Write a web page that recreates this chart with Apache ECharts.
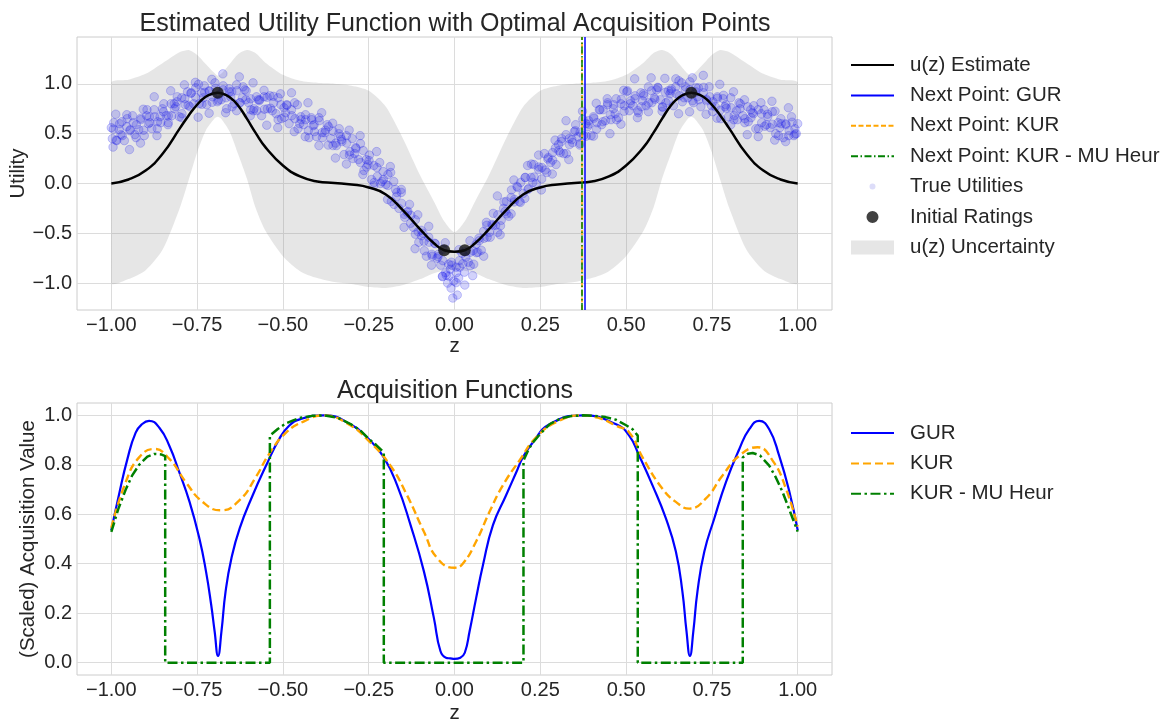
<!DOCTYPE html>
<html>
<head>
<meta charset="utf-8">
<script src="https://cdn.jsdelivr.net/npm/echarts@6/dist/echarts.min.js"></script>
<style>
  html, body { margin: 0; background: #fff; }
  #chart { width: 1175px; height: 725px; }
</style>
</head>
<body>
<div id="chart"></div>
<script>
// ---- top panel: estimated utility ----
const zGrid = [-1.00, -0.95, -0.90, -0.85, -0.80, -0.775, -0.75, -0.725, -0.70, -0.69, -0.68, -0.655, -0.63, -0.605,
  -0.58, -0.55, -0.50, -0.45, -0.40, -0.35, -0.30, -0.25, -0.20, -0.15, -0.10, -0.06, -0.03, 0.00,
  0.03, 0.06, 0.10, 0.15, 0.20, 0.25, 0.30, 0.35, 0.40, 0.45, 0.50, 0.55, 0.58, 0.605, 0.63, 0.655,
  0.68, 0.69, 0.70, 0.725, 0.75, 0.775, 0.80, 0.85, 0.90, 0.95, 1.00];
const uEstimate = [0.00, 0.04, 0.13, 0.30, 0.555, 0.68, 0.79, 0.87, 0.905, 0.91, 0.905, 0.865, 0.78, 0.65,
  0.51, 0.36, 0.18, 0.07, 0.02, 0.005, -0.01, -0.04, -0.11, -0.27, -0.46, -0.60, -0.67, -0.685,
  -0.67, -0.60, -0.46, -0.27, -0.11, -0.04, -0.01, 0.005, 0.02, 0.07, 0.18, 0.36, 0.51, 0.65, 0.78, 0.865,
  0.905, 0.91, 0.905, 0.87, 0.79, 0.68, 0.555, 0.30, 0.13, 0.04, 0.00];
const uUpper = [1.01, 1.04, 1.10, 1.21, 1.32, 1.34, 1.29, 1.20, 1.11, 1.08, 1.10, 1.20, 1.30, 1.34,
  1.31, 1.21, 1.09, 1.03, 1.01, 1.00, 0.98, 0.93, 0.77, 0.45, 0.08, -0.18, -0.38, -0.49,
  -0.38, -0.18, 0.08, 0.45, 0.77, 0.93, 0.98, 1.00, 1.01, 1.03, 1.09, 1.21, 1.31, 1.34, 1.30, 1.20,
  1.10, 1.08, 1.11, 1.20, 1.29, 1.34, 1.32, 1.21, 1.10, 1.04, 1.01];
const uLower = [-1.00, -0.96, -0.87, -0.66, -0.24, 0.03, 0.31, 0.53, 0.65, 0.67, 0.65, 0.52, 0.29, 0.05,
  -0.24, -0.48, -0.73, -0.88, -0.95, -0.99, -1.01, -1.04, -1.05, -1.02, -0.96, -0.90, -0.875, -0.87,
  -0.875, -0.90, -0.96, -1.02, -1.05, -1.04, -1.01, -0.99, -0.95, -0.88, -0.73, -0.48, -0.24, 0.05, 0.29, 0.52,
  0.65, 0.67, 0.65, 0.53, 0.31, 0.03, -0.24, -0.66, -0.87, -0.96, -1.00];

const initialZ = [-0.69, -0.03, 0.03, 0.69];
const initialU = [0.91, -0.67, -0.67, 0.91];

const nextGUR = 0.384;
const nextKUR = 0.374;
const nextHeur = 0.374;

// sampled true utilities [z, u]
const trueUtilities = [
  [-1.000,0.56],[-0.997,0.45],[-0.993,0.61],[-0.984,0.43],[-0.977,0.54],[-0.972,0.49],
  [-0.969,0.62],[-0.962,0.43],[-0.955,0.57],[-0.945,0.54],[-0.938,0.68],[-0.931,0.49],
  [-0.927,0.59],[-0.920,0.54],[-0.914,0.64],[-0.904,0.48],[-0.897,0.68],[-0.892,0.60],
  [-0.889,0.67],[-0.882,0.55],[-0.875,0.74],[-0.865,0.62],[-0.858,0.67],[-0.851,0.75],
  [-0.847,0.80],[-0.840,0.68],[-0.834,0.61],[-0.824,0.68],[-0.817,0.80],[-0.812,0.77],
  [-0.809,0.82],[-0.802,0.67],[-0.795,0.86],[-0.785,0.79],[-0.778,0.92],[-0.771,0.77],
  [-0.767,0.91],[-0.760,0.80],[-0.754,0.96],[-0.744,0.80],[-0.737,0.91],[-0.732,0.86],
  [-0.729,0.98],[-0.722,0.79],[-0.715,0.93],[-0.705,0.87],[-0.698,1.01],[-0.691,0.82],
  [-0.687,0.89],[-0.680,0.84],[-0.674,0.94],[-0.664,0.75],[-0.657,0.95],[-0.652,0.87],
  [-0.649,0.92],[-0.642,0.80],[-0.635,0.99],[-0.625,0.81],[-0.618,0.86],[-0.611,0.94],
  [-0.607,0.93],[-0.600,0.81],[-0.594,0.74],[-0.584,0.75],[-0.577,0.87],[-0.572,0.84],
  [-0.569,0.83],[-0.562,0.68],[-0.555,0.87],[-0.545,0.75],[-0.538,0.88],[-0.531,0.73],
  [-0.527,0.81],[-0.520,0.70],[-0.514,0.86],[-0.504,0.65],[-0.497,0.76],[-0.492,0.71],
  [-0.489,0.79],[-0.482,0.60],[-0.475,0.74],[-0.465,0.65],[-0.458,0.79],[-0.451,0.60],
  [-0.447,0.64],[-0.440,0.59],[-0.434,0.69],[-0.424,0.46],[-0.417,0.66],[-0.412,0.58],
  [-0.409,0.59],[-0.402,0.47],[-0.395,0.66],[-0.385,0.46],[-0.378,0.51],[-0.371,0.59],
  [-0.367,0.57],[-0.360,0.45],[-0.354,0.38],[-0.344,0.38],[-0.337,0.50],[-0.332,0.47],
  [-0.329,0.44],[-0.322,0.29],[-0.315,0.48],[-0.305,0.32],[-0.298,0.45],[-0.291,0.30],
  [-0.287,0.35],[-0.280,0.24],[-0.274,0.40],[-0.264,0.13],[-0.257,0.24],[-0.252,0.19],
  [-0.249,0.23],[-0.242,0.04],[-0.235,0.18],[-0.225,0.07],[-0.218,0.21],[-0.211,0.02],
  [-0.207,0.04],[-0.200,-0.01],[-0.194,0.09],[-0.184,-0.18],[-0.177,0.02],[-0.172,-0.06],
  [-0.169,-0.13],[-0.162,-0.25],[-0.155,-0.06],[-0.145,-0.34],[-0.138,-0.29],[-0.131,-0.21],
  [-0.127,-0.32],[-0.120,-0.44],[-0.114,-0.51],[-0.104,-0.59],[-0.097,-0.47],[-0.092,-0.50],
  [-0.089,-0.58],[-0.082,-0.73],[-0.075,-0.54],[-0.065,-0.73],[-0.058,-0.60],[-0.051,-0.75],
  [-0.047,-0.71],[-0.040,-0.82],[-0.034,-0.66],[-0.024,-0.92],[-0.017,-0.81],[-0.012,-0.86],
  [-0.009,-0.79],[-0.002,-0.98],[0.005,-0.84],[0.015,-0.84],[0.022,-0.70],[0.029,-0.89],
  [0.033,-0.74],[0.040,-0.79],[0.046,-0.69],[0.056,-0.81],[0.063,-0.61],[0.068,-0.69],
  [0.071,-0.55],[0.078,-0.67],[0.085,-0.48],[0.095,-0.54],[0.102,-0.49],[0.109,-0.41],
  [0.113,-0.30],[0.120,-0.42],[0.126,-0.49],[0.136,-0.37],[0.143,-0.25],[0.148,-0.28],
  [0.151,-0.18],[0.158,-0.33],[0.165,-0.14],[0.175,-0.16],[0.182,-0.03],[0.189,-0.18],
  [0.193,0.01],[0.200,-0.10],[0.206,0.06],[0.216,-0.05],[0.223,0.06],[0.228,0.01],
  [0.231,0.19],[0.238,0.00],[0.245,0.14],[0.255,0.16],[0.262,0.30],[0.269,0.11],
  [0.273,0.26],[0.280,0.21],[0.286,0.31],[0.296,0.19],[0.303,0.39],[0.308,0.31],
  [0.311,0.42],[0.318,0.30],[0.325,0.49],[0.335,0.39],[0.342,0.44],[0.349,0.52],
  [0.353,0.59],[0.360,0.47],[0.366,0.40],[0.376,0.48],[0.383,0.60],[0.388,0.57],
  [0.391,0.63],[0.398,0.48],[0.405,0.67],[0.415,0.61],[0.422,0.74],[0.429,0.59],
  [0.433,0.74],[0.440,0.63],[0.446,0.79],[0.456,0.64],[0.463,0.75],[0.468,0.70],
  [0.471,0.85],[0.478,0.66],[0.485,0.80],[0.495,0.78],[0.502,0.92],[0.509,0.73],
  [0.513,0.83],[0.520,0.78],[0.526,0.88],[0.536,0.71],[0.543,0.91],[0.548,0.83],
  [0.551,0.90],[0.558,0.78],[0.565,0.97],[0.575,0.81],[0.582,0.86],[0.589,0.94],
  [0.593,0.96],[0.600,0.84],[0.606,0.77],[0.616,0.81],[0.623,0.93],[0.628,0.90],
  [0.631,0.93],[0.638,0.78],[0.645,0.97],[0.655,0.88],[0.662,1.01],[0.669,0.86],
  [0.673,0.97],[0.680,0.86],[0.686,1.02],[0.696,0.81],[0.703,0.92],[0.708,0.87],
  [0.711,0.96],[0.718,0.77],[0.725,0.91],[0.735,0.83],[0.742,0.97],[0.749,0.78],
  [0.753,0.82],[0.760,0.77],[0.766,0.87],[0.776,0.65],[0.783,0.85],[0.788,0.77],
  [0.791,0.79],[0.798,0.67],[0.805,0.86],[0.815,0.68],[0.822,0.73],[0.829,0.81],
  [0.833,0.80],[0.840,0.68],[0.846,0.61],[0.856,0.62],[0.863,0.74],[0.868,0.71],
  [0.871,0.70],[0.878,0.55],[0.885,0.74],[0.895,0.61],[0.902,0.74],[0.909,0.59],
  [0.913,0.67],[0.920,0.56],[0.926,0.72],[0.936,0.50],[0.943,0.61],[0.948,0.56],
  [0.951,0.65],[0.958,0.46],[0.965,0.60],[0.975,0.53],[0.982,0.67],[0.989,0.48],
  [0.992,0.55],[0.996,0.50],[1.000,0.60],
  [-0.010,-1.05],[0.008,-1.12],[-0.020,-1.00],[0.012,-0.95],[0.030,-1.02],[-0.035,-0.93],[-0.005,-1.15],
  [-0.994,0.545],[-0.986,0.435],[-0.968,0.48],[-0.976,0.60],[-0.954,0.65],[-0.946,0.53],
  [-0.928,0.46],[-0.936,0.61],[-0.914,0.655],[-0.906,0.535],[-0.888,0.61],[-0.896,0.74],
  [-0.874,0.67],[-0.866,0.55],[-0.848,0.72],[-0.856,0.61],[-0.834,0.68],[-0.826,0.80],
  [-0.808,0.87],[-0.816,0.75],[-0.794,0.70],[-0.786,0.85],[-0.768,0.905],[-0.776,0.785],
  [-0.754,0.865],[-0.746,0.995],[-0.728,0.915],[-0.736,0.795],[-0.714,0.925],[-0.706,0.815],
  [-0.688,0.835],[-0.696,0.955],[-0.674,0.98],[-0.666,0.86],[-0.648,0.77],[-0.656,0.92],
  [-0.634,0.93],[-0.626,0.81],[-0.608,0.84],[-0.616,0.97],[-0.594,0.85],[-0.586,0.73],
  [-0.568,0.84],[-0.576,0.73],[-0.554,0.745],[-0.546,0.865],[-0.528,0.875],[-0.536,0.755],
  [-0.514,0.64],[-0.506,0.79],[-0.488,0.785],[-0.496,0.665],[-0.474,0.68],[-0.466,0.81],
  [-0.448,0.67],[-0.456,0.55],[-0.434,0.64],[-0.426,0.53],[-0.408,0.52],[-0.416,0.64],
  [-0.394,0.63],[-0.386,0.51],[-0.368,0.385],[-0.376,0.535],[-0.354,0.525],[-0.346,0.405],
  [-0.328,0.42],[-0.336,0.55],[-0.314,0.405],[-0.306,0.285],[-0.288,0.36],[-0.296,0.25],
  [-0.274,0.21],[-0.266,0.33],[-0.248,0.285],[-0.256,0.165],[-0.234,0.01],[-0.226,0.16],
  [-0.208,0.12],[-0.216,0.00],[-0.194,-0.02],[-0.186,0.11],[-0.168,-0.09],[-0.176,-0.21],
  [-0.154,-0.20],[-0.146,-0.31],[-0.128,-0.40],[-0.136,-0.28],[-0.114,-0.365],[-0.106,-0.485],
  [-0.088,-0.675],[-0.096,-0.525],[-0.074,-0.59],[-0.066,-0.71],[-0.048,-0.735],[-0.056,-0.605],
  [-0.034,-0.775],[-0.026,-0.895],[-0.008,-0.82],[-0.016,-0.93],[0.006,-0.895],[0.014,-0.775],
  [0.032,-0.685],[0.024,-0.805],[0.046,-0.825],[0.054,-0.675],[0.072,-0.575],[0.064,-0.695],
  [0.086,-0.55],[0.094,-0.42],[0.112,-0.42],[0.104,-0.54],[0.126,-0.315],[0.134,-0.425],
  [0.152,-0.305],[0.144,-0.185],[0.166,-0.065],[0.174,-0.185],[0.192,-0.19],[0.184,-0.04],
  [0.206,0.06],[0.214,-0.06],[0.232,0.065],[0.224,0.195],[0.246,0.165],[0.254,0.045],
  [0.272,0.245],[0.264,0.135],[0.286,0.235],[0.294,0.355],[0.312,0.45],[0.304,0.33],
  [0.326,0.30],[0.334,0.45],[0.352,0.53],[0.344,0.41],[0.366,0.515],[0.374,0.645],
  [0.392,0.595],[0.384,0.475],[0.406,0.655],[0.414,0.545],[0.432,0.62],[0.424,0.74],
  [0.446,0.81],[0.454,0.69],[0.472,0.64],[0.464,0.79],[0.486,0.845],[0.494,0.725],
  [0.512,0.80],[0.504,0.93],[0.526,0.85],[0.534,0.73],[0.552,0.88],[0.544,0.77],
  [0.566,0.81],[0.574,0.93],[0.592,0.965],[0.584,0.845],[0.606,0.765],[0.614,0.915],
  [0.632,0.95],[0.624,0.83],[0.646,0.90],[0.654,1.03],[0.672,0.94],[0.664,0.82],
  [0.686,0.94],[0.694,0.83],[0.712,0.84],[0.704,0.96],[0.726,0.965],[0.734,0.845],
  [0.752,0.72],[0.744,0.87],[0.766,0.855],[0.774,0.735],[0.792,0.755],[0.784,0.885],
  [0.806,0.76],[0.814,0.64],[0.832,0.75],[0.824,0.64],[0.846,0.65],[0.854,0.77],
  [0.872,0.78],[0.864,0.66],[0.886,0.55],[0.894,0.70],[0.912,0.695],[0.904,0.575],
  [0.926,0.595],[0.934,0.725],[0.952,0.60],[0.944,0.48],[0.966,0.59],[0.974,0.48],
  [0.992,0.495],[0.984,0.615],
  [-0.987,0.695],[-0.995,0.365],[-0.947,0.34],[-0.955,0.69],[-0.907,0.745],[-0.915,0.405],
  [-0.867,0.48],[-0.875,0.87],[-0.827,0.93],[-0.835,0.59],[-0.787,0.99],[-0.795,0.66],
  [-0.747,0.665],[-0.755,1.015],[-0.707,1.045],[-0.715,0.705],[-0.667,0.71],[-0.675,1.10],
  [-0.627,1.07],[-0.635,0.73],[-0.587,1.01],[-0.595,0.68],[-0.547,0.585],[-0.555,0.935],
  [-0.507,0.90],[-0.515,0.56],[-0.467,0.52],[-0.475,0.91],[-0.427,0.81],[-0.435,0.47],
  [-0.387,0.71],[-0.395,0.38],[-0.347,0.255],[-0.355,0.605],[-0.307,0.535],[-0.315,0.195],
  [-0.267,0.09],[-0.275,0.48],[-0.227,0.32],[-0.235,-0.02],[-0.187,0.17],[-0.195,-0.16],
  [-0.147,-0.44],[-0.155,-0.09],[-0.107,-0.315],[-0.115,-0.655],[-0.067,-0.82],[-0.075,-0.43],
  [-0.027,-0.595],[-0.035,-0.935],[0.013,-0.665],[0.005,-0.995],[0.053,-0.925],[0.045,-0.575],
  [0.093,-0.39],[0.085,-0.73],[0.133,-0.515],[0.125,-0.125],[0.173,0.035],[0.165,-0.305],
  [0.213,0.18],[0.205,-0.15],[0.253,-0.065],[0.245,0.285],[0.293,0.435],[0.285,0.095],
  [0.333,0.24],[0.325,0.63],[0.373,0.725],[0.365,0.385],[0.413,0.805],[0.405,0.475],
  [0.453,0.50],[0.445,0.85],[0.493,0.935],[0.485,0.595],[0.533,0.66],[0.525,1.05],
  [0.573,1.06],[0.565,0.72],[0.613,1.055],[0.605,0.725],[0.653,0.70],[0.645,1.05],
  [0.693,1.06],[0.685,0.72],[0.733,0.695],[0.725,1.085],[0.773,0.995],[0.765,0.655],
  [0.813,0.92],[0.805,0.59],[0.853,0.49],[0.845,0.84],[0.893,0.81],[0.885,0.47],
  [0.933,0.435],[0.925,0.825],[0.973,0.76],[0.965,0.42]
];

// ---- bottom panel: acquisition functions ----
const gurZ = [-1.00, -0.978, -0.953, -0.929, -0.91, -0.89, -0.86, -0.831, -0.802, -0.772, -0.743, -0.724, -0.709,
  -0.699, -0.689, -0.679, -0.667, -0.650, -0.626, -0.588, -0.549, -0.511, -0.482, -0.449, -0.381, -0.303,
  -0.25, -0.206, -0.167, -0.128, -0.089, -0.060, -0.041, -0.025, -0.012, 0.0, 0.017, 0.03, 0.044, 0.063,
  0.083, 0.112, 0.150, 0.180, 0.199, 0.228, 0.277, 0.374, 0.471, 0.509, 0.538, 0.577, 0.616, 0.645, 0.664,
  0.676, 0.686, 0.696, 0.708, 0.728, 0.757, 0.791, 0.830, 0.859, 0.888, 0.917, 0.946, 0.976, 1.0];
const gurVal = [0.536, 0.677, 0.824, 0.93, 0.965, 0.978, 0.95, 0.877, 0.77, 0.65, 0.50, 0.368, 0.234,
  0.127, 0.027, 0.127, 0.288, 0.422, 0.543, 0.677, 0.797, 0.904, 0.958, 0.985, 1.0, 0.964,
  0.904, 0.83, 0.717, 0.556, 0.368, 0.18, 0.047, 0.02, 0.017, 0.015, 0.02, 0.04, 0.127, 0.261,
  0.395, 0.556, 0.676, 0.77, 0.83, 0.89, 0.964, 1.0, 0.964, 0.918, 0.837, 0.717, 0.583, 0.449, 0.288,
  0.127, 0.027, 0.127, 0.288, 0.449, 0.583, 0.73, 0.864, 0.944, 0.978, 0.944, 0.837, 0.69, 0.536];

const kurZ = [-1.00, -0.958, -0.919, -0.875, -0.831, -0.783, -0.734, -0.681, -0.627, -0.579, -0.540, -0.491,
  -0.44, -0.381, -0.31, -0.25, -0.187, -0.138, -0.089, -0.050, 0.0, 0.024, 0.063, 0.102, 0.141, 0.189,
  0.238, 0.30, 0.374, 0.43, 0.471, 0.509, 0.548, 0.606, 0.645, 0.684, 0.732, 0.781, 0.830, 0.883, 0.927,
  0.966, 1.0];
const kurVal = [0.545, 0.73, 0.83, 0.864, 0.824, 0.73, 0.65, 0.616, 0.656, 0.75, 0.844, 0.93,
  0.975, 1.0, 0.965, 0.897, 0.797, 0.676, 0.529, 0.422, 0.384, 0.40, 0.49, 0.61, 0.717, 0.817,
  0.911, 0.975, 1.0, 0.985, 0.958, 0.931, 0.83, 0.703, 0.65, 0.623, 0.663, 0.757, 0.837, 0.871, 0.817,
  0.703, 0.55];

const heurZ = [-1.00, -0.98, -0.958, -0.94, -0.919, -0.895, -0.875, -0.855, -0.843, -0.843,
  -0.538, -0.538, -0.515, -0.491, -0.47, -0.449, -0.415, -0.381, -0.34, -0.303, -0.275, -0.25, -0.228, -0.206, -0.206,
  0.201, 0.201, 0.215, 0.228, 0.25, 0.277, 0.31, 0.34, 0.374, 0.41, 0.44, 0.471, 0.50, 0.519, 0.534, 0.534,
  0.84, 0.84, 0.855, 0.869, 0.89, 0.917, 0.936, 0.956, 0.978, 1.0];
const heurVal = [0.529, 0.62, 0.70, 0.755, 0.80, 0.833, 0.844, 0.842, 0.835, 0,
  0, 0.918, 0.945, 0.968, 0.98, 0.99, 0.998, 1.0, 0.99, 0.965, 0.94, 0.905, 0.88, 0.85, 0,
  0, 0.817, 0.86, 0.89, 0.925, 0.964, 0.988, 0.997, 1.0, 0.998, 0.993, 0.982, 0.96, 0.944, 0.918, 0,
  0, 0.83, 0.845, 0.848, 0.838, 0.797, 0.75, 0.69, 0.61, 0.53];

const zTicks = [-1, -0.75, -0.5, -0.25, 0, 0.25, 0.5, 0.75, 1];
const utilTicks = [-1, -0.5, 0, 0.5, 1];
const acqTicks = [0, 0.2, 0.4, 0.6, 0.8, 1];

const font = "'Liberation Sans', Arial, sans-serif";
const ink = '#262626';
const zip = (xs, ys) => xs.map((x, i) => [x, ys[i]]);
const fmt = (d) => (v) => (v < 0 ? '\u2212' : '') + Math.abs(v).toFixed(d);

function xAxisFor(gridIndex, nameGap) {
  return {
    type: 'value', gridIndex, min: -1.1, max: 1.1,
    name: 'z', nameLocation: 'middle', nameGap,
    nameTextStyle: { fontSize: 20.5, color: ink, fontFamily: font },
    axisLine: { show: false },
    axisTick: { show: false, customValues: zTicks },
    axisLabel: { customValues: zTicks, formatter: fmt(2), fontSize: 20, color: ink, fontFamily: font, margin: 5 },
    splitLine: { show: true, lineStyle: { color: '#dcdcdc', width: 1 } }
  };
}
function yAxisFor(gridIndex, min, max, ticks, name, nameGap) {
  return {
    type: 'value', gridIndex, min, max,
    name, nameLocation: 'middle', nameGap, nameMoveOverlap: false,
    nameTextStyle: { fontSize: 20.5, color: ink, fontFamily: font },
    axisLine: { show: false },
    axisTick: { show: false, customValues: ticks },
    axisLabel: { customValues: ticks, formatter: fmt(1), fontSize: 20, color: ink, fontFamily: font, margin: 5 },
    splitLine: { show: true, lineStyle: { color: '#dcdcdc', width: 1 } }
  };
}
function nextPoint(name, z, color, type) {
  return {
    name, type: 'line', xAxisIndex: 0, yAxisIndex: 0, data: [], symbol: 'none',
    itemStyle: { color }, lineStyle: { color, width: 1.5, type },
    markLine: { silent: true, symbol: 'none', label: { show: false },
      lineStyle: { color, width: 1.5, type }, data: [{ xAxis: z }] },
    z: 6
  };
}
const lineItem = (name) => ({ name, itemStyle: { opacity: 0 } });

const legendText = {
  fontSize: 20.5, color: ink, fontFamily: font, lineHeight: 22,
  rich: { g: { width: 11 } }
};
const smallDot = 'path://M0,0L0.01,0M14,14L14.01,14M4,7a3,3 0 1,0 6,0a3,3 0 1,0 -6,0Z';
const bigDot = 'path://M0,0L0.01,0M14,14L14.01,14M1,7a6,6 0 1,0 12,0a6,6 0 1,0 -12,0Z';

const chart = echarts.init(document.getElementById('chart'));
chart.setOption({
  backgroundColor: '#ffffff',
  animation: false,
  title: [
    { text: 'Estimated Utility Function with Optimal Acquisition Points', left: 455, top: 12, textAlign: 'center', padding: 0,
      textStyle: { fontSize: 25, fontWeight: 'normal', color: ink, fontFamily: font } },
    { text: 'Acquisition Functions', left: 455, top: 379, textAlign: 'center', padding: 0,
      textStyle: { fontSize: 25, fontWeight: 'normal', color: ink, fontFamily: font } }
  ],
  grid: [
    { left: 77, top: 37, width: 755, height: 273, containLabel: false, outerBoundsMode: 'none',
      show: true, borderColor: '#cccccc', borderWidth: 1, backgroundColor: '#fff' },
    { left: 77, top: 403, width: 755, height: 272, containLabel: false, outerBoundsMode: 'none',
      show: true, borderColor: '#cccccc', borderWidth: 1, backgroundColor: '#fff' }
  ],
  xAxis: [xAxisFor(0, 22), xAxisFor(1, 28)],
  yAxis: [
    yAxisFor(0, -1.27, 1.47, utilTicks, 'Utility', 48),
    yAxisFor(1, -0.05, 1.05, acqTicks, '(Scaled) Acquisition Value', 38)
  ],
  legend: [
    { orient: 'vertical', left: 850, top: 54, padding: 0, itemWidth: 43, itemHeight: 14, itemGap: 8.4,
      textStyle: legendText, formatter: (n) => '{g|}' + n, selectedMode: false,
      data: [
        lineItem('u(z) Estimate'),
        lineItem('Next Point: GUR'),
        lineItem('Next Point: KUR'),
        lineItem('Next Point: KUR - MU Heur'),
        { name: 'True Utilities', icon: smallDot, itemStyle: { color: '#d4d4f8', borderWidth: 0 } },
        { name: 'Initial Ratings', icon: bigDot, itemStyle: { color: '#111111', borderWidth: 0 } },
        { name: 'u(z) Uncertainty', icon: 'rect', itemStyle: { color: '#e6e6e6', borderWidth: 0 } }
      ] },
    { orient: 'vertical', left: 850, top: 422, padding: 0, itemWidth: 43, itemHeight: 14, itemGap: 8.4,
      textStyle: legendText, formatter: (n) => '{g|}' + n, selectedMode: false,
      data: [lineItem('GUR'), lineItem('KUR'), lineItem('KUR - MU Heur')] }
  ],
  series: [
    { name: 'u(z) Uncertainty', type: 'custom', xAxisIndex: 0, yAxisIndex: 0,
      data: zGrid.map((z, i) => [z, uLower[i], uUpper[i]]),
      encode: { x: 0, y: [1, 2] }, silent: true, z: 1,
      itemStyle: { color: '#e6e6e6' },
      renderItem: (params, api) => {
        if (params.dataIndex !== 0) return null;
        const top = zGrid.map((z, i) => api.coord([z, uUpper[i]]));
        const bottom = zGrid.map((z, i) => api.coord([z, uLower[i]])).reverse();
        const pts = top.concat(bottom);
        const xs = pts.map((p) => p[0]);
        const ys = pts.map((p) => p[1]);
        const bounds = [[Math.min(...xs), Math.min(...ys)], [Math.max(...xs), Math.max(...ys)]];
        return {
          type: 'polygon',
          shape: { points: pts, smooth: 0.25, smoothConstraint: bounds },
          style: { fill: 'rgba(128,128,128,0.2)', stroke: null }
        };
      } },
    { name: 'True Utilities', type: 'scatter', xAxisIndex: 0, yAxisIndex: 0, data: trueUtilities,
      symbolSize: 8.5, itemStyle: { color: 'rgba(30,30,235,0.25)', borderColor: 'rgba(30,30,235,0.36)', borderWidth: 0.8 },
      silent: true, z: 2 },
    { name: 'u(z) Estimate', type: 'line', xAxisIndex: 0, yAxisIndex: 0, data: zip(zGrid, uEstimate),
      symbol: 'none', smooth: 0.5,
      itemStyle: { color: '#000' }, lineStyle: { color: '#000', width: 2.5 }, z: 3 },
    { name: 'Initial Ratings', type: 'scatter', xAxisIndex: 0, yAxisIndex: 0, data: zip(initialZ, initialU),
      symbolSize: 12, itemStyle: { color: '#111111' }, z: 4 },
    nextPoint('Next Point: GUR', nextGUR, '#0000ff', 'solid'),
    nextPoint('Next Point: KUR', nextKUR, '#ffa500', [5, 2.5]),
    nextPoint('Next Point: KUR - MU Heur', nextHeur, '#008000', [7, 2.5, 1.5, 2.5]),

    { name: 'GUR', type: 'line', xAxisIndex: 1, yAxisIndex: 1, data: zip(gurZ, gurVal),
      symbol: 'none', smooth: 0.5,
      itemStyle: { color: '#0000ff' }, lineStyle: { color: '#0000ff', width: 2.2 }, z: 2 },
    { name: 'KUR', type: 'line', xAxisIndex: 1, yAxisIndex: 1, data: zip(kurZ, kurVal),
      symbol: 'none', smooth: 0.5,
      itemStyle: { color: '#ffa500' }, lineStyle: { color: '#ffa500', width: 2.4, type: [8, 4] }, z: 3 },
    { name: 'KUR - MU Heur', type: 'line', xAxisIndex: 1, yAxisIndex: 1, data: zip(heurZ, heurVal),
      symbol: 'none',
      itemStyle: { color: '#008000' }, lineStyle: { color: '#008000', width: 2.5, type: [10, 3.5, 2.5, 3.5] }, z: 4 }
  ]
});
</script>
</body>
</html>
